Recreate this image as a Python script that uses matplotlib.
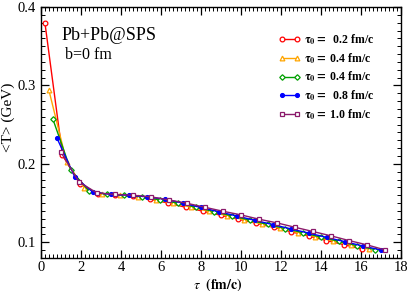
import matplotlib
matplotlib.use("Agg")
import matplotlib.pyplot as plt
from matplotlib.ticker import MultipleLocator

plt.rcParams['font.family'] = ['Liberation Serif', 'DejaVu Serif']
plt.rcParams['mathtext.fontset'] = 'stix'

# ---- data ----
tau_02 = [0.2, 1.08, 1.96, 2.84, 3.72, 4.6, 5.48, 6.36, 7.24, 8.12, 9.0, 9.88,
          10.76, 11.64, 12.52, 13.4, 14.28, 15.16, 16.04]
T_02 = [0.380, 0.211, 0.174, 0.162, 0.160, 0.159, 0.155, 0.150, 0.1447, 0.1396,
        0.1345, 0.1295, 0.1244, 0.1190, 0.1134, 0.1080, 0.1023, 0.0970, 0.0913]

tau_04 = [0.4, 1.289, 2.178, 3.067, 3.956, 4.844, 5.733, 6.622, 7.511, 8.4, 9.289,
          10.178, 11.067, 11.956, 12.844, 13.733, 14.622, 15.511, 16.4]
T_04 = [0.294, 0.202, 0.169, 0.161, 0.160, 0.158, 0.154, 0.150, 0.1448, 0.1394,
        0.1340, 0.1286, 0.1232, 0.1178, 0.1124, 0.1071, 0.1017, 0.0963, 0.0912]

tau_06 = [0.6, 1.494, 2.389, 3.283, 4.178, 5.072, 5.967, 6.861, 7.756, 8.65, 9.544,
          10.439, 11.333, 12.228, 13.122, 14.017, 14.911, 15.806, 16.7]
T_06 = [0.257, 0.192, 0.166, 0.161, 0.160, 0.158, 0.154, 0.150, 0.1446, 0.1392,
        0.1337, 0.1283, 0.1229, 0.1175, 0.1121, 0.1066, 0.1012, 0.0958, 0.0907]

tau_08 = [0.8, 1.7, 2.6, 3.5, 4.4, 5.3, 6.2, 7.1, 8.0, 8.9, 9.8, 10.7, 11.6, 12.5,
          13.4, 14.3, 15.2, 16.1, 17.0]
T_08 = [0.233, 0.183, 0.164, 0.161, 0.160, 0.158, 0.155, 0.150, 0.1444, 0.1389,
        0.1335, 0.1280, 0.1226, 0.1171, 0.1117, 0.1062, 0.1008, 0.0953, 0.0902]

tau_10 = [1.0, 1.9, 2.8, 3.7, 4.6, 5.5, 6.4, 7.3, 8.2, 9.1, 10.0, 10.9, 11.8, 12.7,
          13.6, 14.5, 15.4, 16.3, 17.2]
T_10 = [0.215, 0.177, 0.163, 0.161, 0.160, 0.158, 0.154, 0.1498, 0.1447, 0.1396,
        0.1350, 0.1295, 0.1248, 0.1192, 0.1138, 0.1083, 0.1023, 0.0968, 0.0904]

labels = [r'$\mathbf{\tau_0}$$\mathbf{=}$  0.2 fm/c',
          r'$\mathbf{\tau_0}$$\mathbf{=}$ 0.4 fm/c',
          r'$\mathbf{\tau_0}$$\mathbf{=}$ 0.4 fm/c',
          r'$\mathbf{\tau_0}$$\mathbf{=}$  0.8 fm/c',
          r'$\mathbf{\tau_0}$$\mathbf{=}$ 1.0 fm/c']

series = [(tau_02, T_02), (tau_04, T_04), (tau_06, T_06), (tau_08, T_08), (tau_10, T_10)]
colors = ['#ff0000', '#ffa500', '#00a000', '#0000ff', '#8b1a6b']
markers = ['o', '^', 'D', 'o', 's']
mfcs = ['white', 'white', 'white', '#0000ff', 'white']
msizes = [3.4, 3.4, 2.8, 2.8, 3.4]

fig = plt.figure(figsize=(4.09, 2.91), dpi=100)
ax = fig.add_axes([0.100, 0.1134, 0.880, 0.8626])

for (x, y), c, m, mf, ms, lab in zip(series, colors, markers, mfcs, msizes, labels):
    ax.plot(x, y, color=c, lw=1.0, marker=m, ms=ms, mfc=mf, mec=c, mew=0.9, label=lab)

ax.set_xlim(0, 18)
ax.set_ylim(0.08, 0.4)
ax.xaxis.set_major_locator(MultipleLocator(2))
ax.xaxis.set_minor_locator(MultipleLocator(0.2))
ax.yaxis.set_major_locator(MultipleLocator(0.1))
ax.yaxis.set_minor_locator(MultipleLocator(0.01))
ax.tick_params(which='both', direction='in', top=True, right=True, labelsize=10.5)
ax.tick_params(axis='x', which='major', pad=2)
ax.tick_params(which='major', length=6, width=0.9)
ax.tick_params(which='minor', length=3, width=0.7)
for s in ax.spines.values():
    s.set_linewidth(1.0)

ax.set_xlabel(r'$\tau$  $\mathbf{(fm/c)}$', fontsize=10)
ax.xaxis.set_label_coords(0.49, -0.07)
ax.set_ylabel('<T> (GeV)', fontsize=11)
ax.yaxis.set_label_coords(-0.072, 0.56)

ax.text(0.058, 0.885, 'Pb+Pb@SPS', transform=ax.transAxes, fontsize=13, va='center')
ax.text(0.066, 0.81, 'b=0 fm', transform=ax.transAxes, fontsize=11.5, va='center')

leg = ax.legend(loc='upper right', bbox_to_anchor=(0.94, 0.92), frameon=False,
                fontsize=8.5, handlelength=1.9, handletextpad=0.3, labelspacing=0.35,
                numpoints=2, borderaxespad=0)
for t in leg.get_texts():
    t.set_fontweight('bold')

fig.savefig('out.png', dpi=100)
